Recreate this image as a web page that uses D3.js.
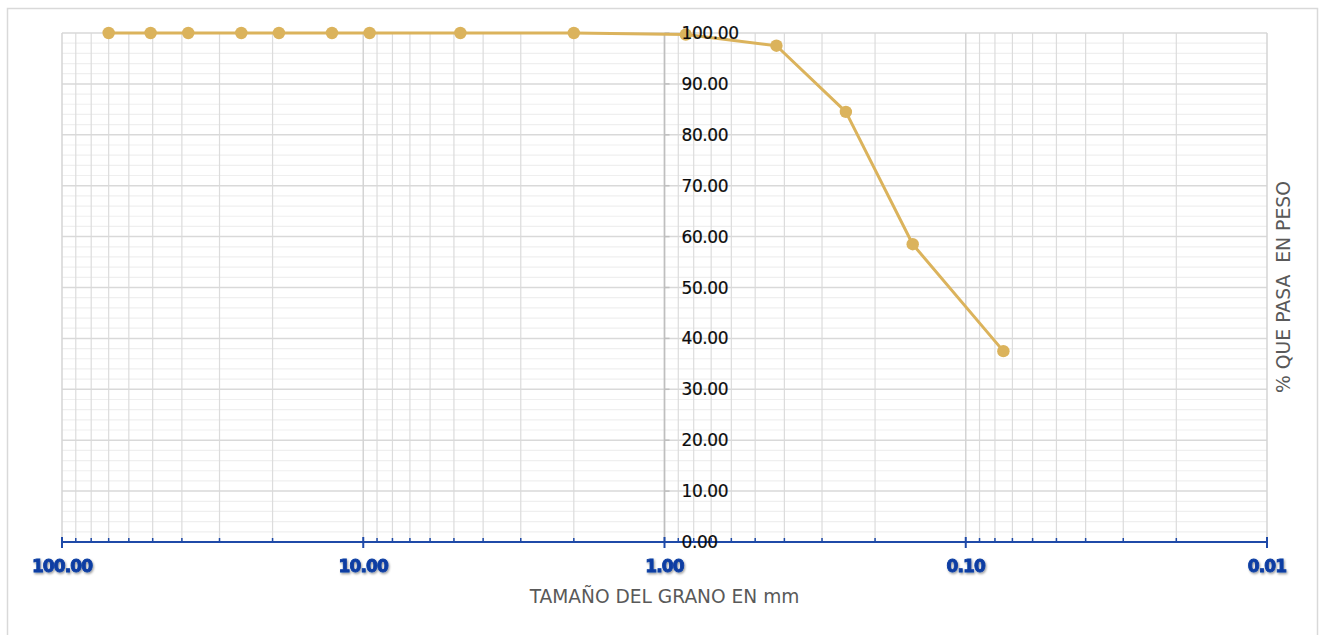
<!DOCTYPE html>
<html>
<head>
<meta charset="utf-8">
<script src="https://cdn.jsdelivr.net/npm/d3@7"></script>
<style>
  html, body { margin: 0; padding: 0; background: #ffffff; }
  svg { display: block; }
  text { font-family: "DejaVu Sans", sans-serif; }
</style>
</head>
<body>
<svg id="chart" width="1323" height="635"></svg>
<script>
// Sieve openings (mm) and cumulative percent passing
const sieveSizes = [70, 50.8, 38.1, 25.4, 19.05, 12.7, 9.525, 4.76, 2.0, 0.85, 0.425, 0.25, 0.15, 0.075];
const percentPassing = [100, 100, 100, 100, 100, 100, 100, 100, 100, 99.7, 97.5, 84.5, 58.5, 37.5];

// Axis ticks
const xMajorTicks = [100, 10, 1, 0.1, 0.01];
const yTicks = [0, 10, 20, 30, 40, 50, 60, 70, 80, 90, 100];

const xTitle = "TAMAÑO DEL GRANO EN mm";
const yTitle = "% QUE PASA  EN PESO";

const svg = d3.select("#chart");
const plot = { left: 62, right: 1267, top: 33, bottom: 542 };

const x = d3.scaleLog().domain([100, 0.01]).range([plot.left, plot.right]);
const y = d3.scaleLinear().domain([0, 100]).range([plot.bottom, plot.top]);

// Outer chart frame
svg.append("rect")
  .attr("x", 7.5).attr("y", 8.5)
  .attr("width", 1310).attr("height", 650)
  .attr("fill", "#ffffff")
  .attr("stroke", "#d9d9d9").attr("stroke-width", 1.5);

// Minor log ticks: 2..9 in every decade
const xMinorTicks = [];
[10, 1, 0.1, 0.01].forEach(base => {
  for (let k = 2; k <= 9; k++) xMinorTicks.push(+(base * k).toPrecision(6));
});
const yMinorTicks = d3.range(0, 101, 2).filter(v => v % 10 !== 0);

const grid = svg.append("g");
// horizontal minor
grid.selectAll(".hmin").data(yMinorTicks).join("line")
  .attr("x1", plot.left).attr("x2", plot.right)
  .attr("y1", d => y(d)).attr("y2", d => y(d))
  .attr("stroke", "#efefef").attr("stroke-width", 1.2);
// vertical minor
grid.selectAll(".vmin").data(xMinorTicks).join("line")
  .attr("x1", d => x(d)).attr("x2", d => x(d))
  .attr("y1", plot.top).attr("y2", plot.bottom)
  .attr("stroke", "#dcdcdc").attr("stroke-width", 1.2);
// horizontal major
grid.selectAll(".hmaj").data(yTicks).join("line")
  .attr("x1", plot.left).attr("x2", plot.right)
  .attr("y1", d => y(d)).attr("y2", d => y(d))
  .attr("stroke", "#d9d9d9").attr("stroke-width", 1.5);
// vertical major
grid.selectAll(".vmaj").data(xMajorTicks).join("line")
  .attr("x1", d => x(d)).attr("x2", d => x(d))
  .attr("y1", plot.top).attr("y2", plot.bottom)
  .attr("stroke", "#d4d4d4").attr("stroke-width", 1.5);

// Vertical value axis crossing at 1.00 mm
const yAxisX = x(1);
svg.append("line")
  .attr("x1", yAxisX).attr("x2", yAxisX)
  .attr("y1", plot.top).attr("y2", plot.bottom)
  .attr("stroke", "#bfbfbf").attr("stroke-width", 1.5);
svg.append("g").selectAll("line").data(yTicks).join("line")
  .attr("x1", yAxisX).attr("x2", yAxisX + 5)
  .attr("y1", d => y(d)).attr("y2", d => y(d))
  .attr("stroke", "#bfbfbf").attr("stroke-width", 1.5);

// Horizontal axis (blue)
const axisBlue = "#1f4aa8";
svg.append("line")
  .attr("x1", plot.left).attr("x2", plot.right)
  .attr("y1", plot.bottom).attr("y2", plot.bottom)
  .attr("stroke", axisBlue).attr("stroke-width", 2);
svg.append("g").selectAll("line").data(xMajorTicks).join("line")
  .attr("x1", d => x(d)).attr("x2", d => x(d))
  .attr("y1", plot.bottom - 5).attr("y2", plot.bottom + 6)
  .attr("stroke", axisBlue).attr("stroke-width", 2);
svg.append("g").selectAll("line").data(xMinorTicks).join("line")
  .attr("x1", d => x(d)).attr("x2", d => x(d))
  .attr("y1", plot.bottom - 4).attr("y2", plot.bottom)
  .attr("stroke", axisBlue).attr("stroke-width", 1.5);

// Drop shadow for the bold axis labels
const defs = svg.append("defs");
const f = defs.append("filter").attr("id", "lblShadow")
  .attr("x", "-10%").attr("y", "-20%").attr("width", "130%").attr("height", "160%");
f.append("feDropShadow").attr("dx", 1).attr("dy", 1.5)
  .attr("stdDeviation", 0.8).attr("flood-color", "#000000").attr("flood-opacity", 0.4);

const fmt = d3.format(".2f");
svg.append("g").selectAll("text").data(xMajorTicks).join("text")
  .attr("x", d => x(d)).attr("y", 572)
  .attr("text-anchor", "middle")
  .attr("font-size", 17).attr("font-weight", "bold")
  .attr("letter-spacing", -0.9)
  .attr("fill", "#0a3ea3")
  .attr("stroke", "#0a3ea3").attr("stroke-width", 0.9)
  .attr("paint-order", "stroke")
  .attr("filter", "url(#lblShadow)")
  .text(d => fmt(d));

// Data series
const points = sieveSizes.map((s, i) => ({ s, p: percentPassing[i] }));
const gold = "#dbb35c";
svg.append("path")
  .datum(points)
  .attr("fill", "none")
  .attr("stroke", gold).attr("stroke-width", 3)
  .attr("stroke-linejoin", "round")
  .attr("d", d3.line().x(d => x(d.s)).y(d => y(d.p)));
svg.append("g").selectAll("circle").data(points).join("circle")
  .attr("cx", d => x(d.s)).attr("cy", d => y(d.p))
  .attr("r", 6.2).attr("fill", gold);

// Value labels next to the vertical axis
svg.append("g").selectAll("text").data(yTicks).join("text")
  .attr("x", yAxisX + 17).attr("y", d => y(d) + 6)
  .attr("font-size", 17)
  .attr("letter-spacing", -0.4)
  .attr("fill", "#0d0d0d")
  .attr("stroke", "#0d0d0d").attr("stroke-width", 0.2)
  .text(d => fmt(d));

// Axis titles
svg.append("text")
  .attr("x", x(1)).attr("y", 603)
  .attr("text-anchor", "middle")
  .attr("font-size", 18.6)
  .attr("fill", "#595959")
  .text(xTitle);

svg.append("text")
  .attr("transform", "translate(1290,287) rotate(-90)")
  .attr("text-anchor", "middle")
  .attr("font-size", 18.8)
  .attr("fill", "#595959")
  .style("white-space", "pre")
  .text(yTitle);
</script>
</body>
</html>
